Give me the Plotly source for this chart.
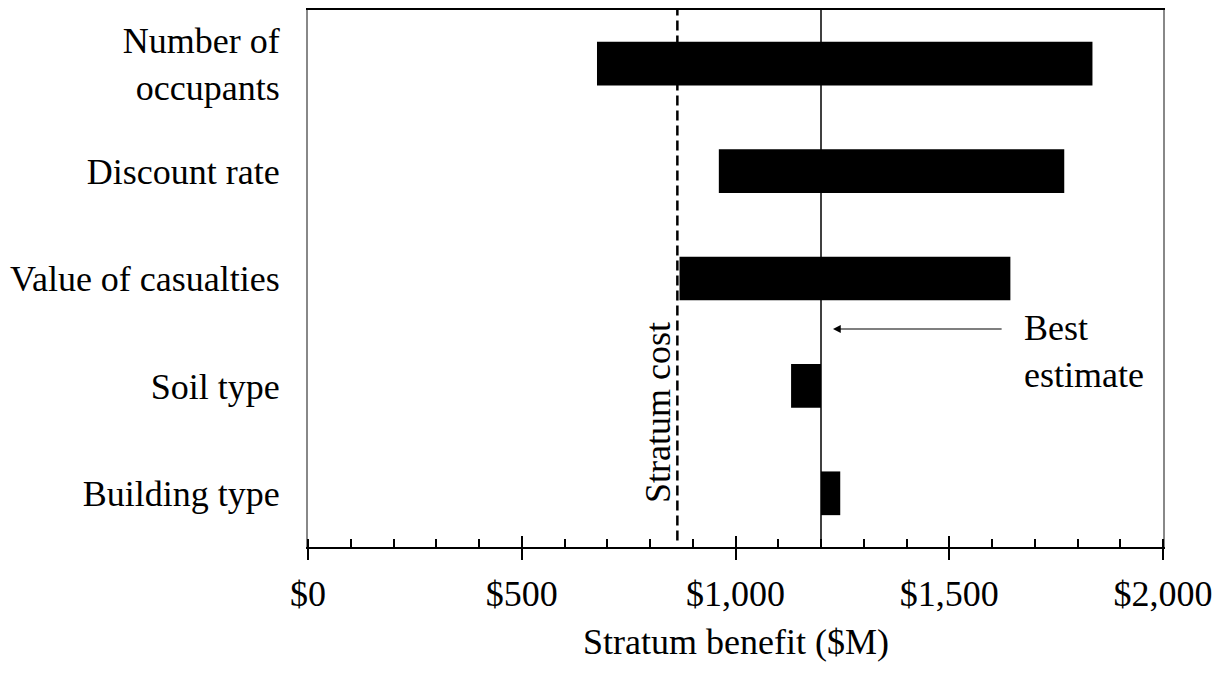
import plotly.graph_objects as go

# ---- data ----
categories = ["Number of<br>occupants", "Discount rate", "Value of casualties", "Soil type", "Building type"]
low_values = [676, 961, 869, 1130, 1200]
high_values = [1835, 1769, 1643, 1200, 1245]
best_estimate = 1200
stratum_cost = 864
tick_vals = [0, 500, 1000, 1500, 2000]
tick_text = ["$0", "$500", "$1,000", "$1,500", "$2,000"]
x_title = "Stratum benefit ($M)"

FONT = "Liberation Serif"
FS = 36

fig = go.Figure()
fig.add_trace(go.Bar(
    y=categories,
    x=[h - l for h, l in zip(high_values, low_values)],
    base=low_values,
    orientation="h",
    width=0.407,
    marker=dict(color="black", line=dict(width=0)),
    showlegend=False,
    hoverinfo="skip",
))
# invisible trace to activate overlay axis (inside major ticks)
fig.add_trace(go.Scatter(x=[None], y=[None], xaxis="x2", yaxis="y", showlegend=False, hoverinfo="skip"))

# best estimate (solid) and stratum cost (dashed) lines
fig.add_shape(type="line", xref="x", yref="paper", x0=best_estimate, x1=best_estimate, y0=0, y1=1,
              line=dict(color="black", width=1.5))
fig.add_shape(type="line", xref="x", yref="paper", x0=stratum_cost, x1=stratum_cost, y0=0.012, y1=1,
              line=dict(color="black", width=2.5, dash="10px,5px"))

# arrow to best estimate
fig.add_annotation(x=1228, y=2.47, ax=1626, ay=2.47, xref="x", yref="y", axref="x", ayref="y",
                   text="", showarrow=True, arrowhead=2, arrowsize=1.3, arrowwidth=1.2, arrowcolor="black")
fig.add_annotation(x=1670, y=2.68, xref="x", yref="y", text="Best<br>estimate", showarrow=False,
                   xanchor="left", yanchor="middle", align="left",
                   font=dict(family=FONT, size=FS, color="black"))
fig.add_annotation(x=817, y=3.25, xref="x", yref="y", text="Stratum cost", showarrow=False,
                   textangle=-90, xanchor="center", yanchor="middle",
                   font=dict(family=FONT, size=FS, color="black"))
# x-axis title
fig.add_annotation(x=0.5, y=-0.176, xref="paper", yref="paper", text=x_title, showarrow=False,
                   xanchor="center", yanchor="middle",
                   font=dict(family=FONT, size=FS, color="black"))

axis_font = dict(family=FONT, size=FS, color="black")
fig.update_layout(
    width=1224, height=676,
    margin=dict(l=300, r=69, t=0, b=137),
    paper_bgcolor="white", plot_bgcolor="white",
    font=dict(family=FONT, size=FS, color="black"),
    xaxis=dict(
        range=[0, 2000],
        tickvals=tick_vals, ticktext=tick_text,
        ticks="outside", ticklen=11, tickwidth=2, tickcolor="black",
        minor=dict(ticks="inside", ticklen=8, tickwidth=1.5, tickcolor="black", dtick=100, showgrid=False),
        showgrid=False, zeroline=False,
        showline=True, linecolor="black", linewidth=2, mirror=True,
        tickfont=axis_font,
        ticklabelstandoff=3,
    ),
    xaxis2=dict(
        range=[0, 2000], overlaying="x", anchor="y", side="bottom",
        tickvals=tick_vals, ticks="inside", ticklen=11, tickwidth=2, tickcolor="black",
        showticklabels=False, showgrid=False, zeroline=False, showline=False,
    ),
    yaxis=dict(
        range=[4.5, -0.5],
        type="category",
        ticks="", showgrid=False, zeroline=False,
        showline=True, linecolor="#888888", linewidth=2, mirror=True,
        tickfont=axis_font,
        ticklabelstandoff=19,
    ),
)

fig.write_html("out.html")
